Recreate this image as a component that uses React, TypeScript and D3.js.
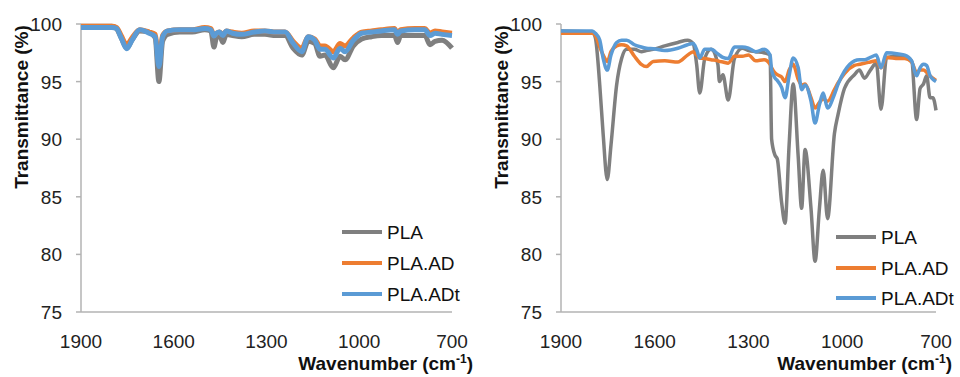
import { useEffect, useRef } from 'react'
import * as d3 from 'd3'

// wavenumbers (cm-1)
const leftWn = [1900, 1800, 1785, 1770, 1752, 1735, 1710, 1680, 1660, 1648, 1636, 1620, 1580, 1540, 1500, 1480, 1470, 1462, 1452, 1441, 1430, 1410, 1380, 1340, 1305, 1270, 1240, 1214, 1186, 1165, 1144, 1127, 1111, 1084, 1062, 1046, 1019, 992, 960, 929, 886, 876, 866, 820, 788, 771, 755, 732, 700]
const leftPla = [99.8, 99.8, 99.6, 98.8, 97.9, 98.6, 99.4, 99.3, 98.8, 95.0, 98.5, 99.1, 99.3, 99.3, 99.5, 99.4, 98.0, 98.8, 99.0, 98.4, 99.1, 99.0, 98.9, 99.1, 99.1, 99.0, 99.0, 97.9, 97.3, 98.5, 98.3, 97.2, 97.3, 96.2, 97.2, 96.9, 98.1, 98.7, 98.9, 99.0, 99.0, 98.4, 99.0, 99.0, 99.0, 98.2, 98.5, 98.6, 97.9]
const leftAd = [99.8, 99.8, 99.7, 99.0, 98.2, 98.8, 99.5, 99.3, 99.1, 96.8, 99.0, 99.4, 99.5, 99.5, 99.7, 99.6, 99.0, 99.2, 99.3, 99.1, 99.4, 99.3, 99.2, 99.4, 99.4, 99.3, 99.3, 98.5, 97.9, 98.9, 98.7, 98.1, 98.1, 97.6, 98.3, 98.1, 98.8, 99.3, 99.4, 99.5, 99.6, 99.2, 99.5, 99.6, 99.6, 99.2, 99.4, 99.3, 99.2]
const leftAdt = [99.7, 99.7, 99.6, 98.8, 97.85, 98.6, 99.5, 99.2, 98.9, 96.3, 98.9, 99.4, 99.5, 99.5, 99.6, 99.5, 98.95, 99.2, 99.3, 99.0, 99.4, 99.2, 99.1, 99.3, 99.4, 99.3, 99.3, 98.35, 97.6, 98.9, 98.6, 97.8, 97.8, 97.05, 97.9, 97.6, 98.6, 99.2, 99.3, 99.4, 99.5, 99.1, 99.4, 99.5, 99.5, 99.0, 99.2, 99.1, 99.0]

// wavenumbers (cm-1)
const rightWn = [1900, 1800, 1790, 1776, 1765, 1752, 1740, 1722, 1706, 1690, 1665, 1643, 1627, 1605, 1568, 1526, 1495, 1477, 1466, 1456, 1440, 1420, 1398, 1393, 1382, 1365, 1345, 1320, 1300, 1277, 1250, 1231, 1226, 1215, 1208, 1194, 1183, 1170, 1157, 1141, 1130, 1119, 1100, 1087, 1073, 1061, 1047, 1025, 1013, 993, 961, 945, 929, 910, 891, 876, 858, 820, 800, 778, 762, 751, 740, 730, 719, 710, 700]
const rightPla = [99.4, 99.3, 98.8, 94.7, 90.4, 86.5, 89.5, 94.7, 97.0, 97.8, 97.8, 97.6, 97.7, 97.8, 98.1, 98.4, 98.6, 98.3, 96.5, 94.0, 97.0, 97.8, 96.5, 95.0, 95.6, 93.4, 97.0, 97.9, 97.7, 97.6, 97.5, 97.3, 90.0, 88.6, 88.3, 84.5, 82.7, 89.5, 94.8, 88.5, 84.0, 89.1, 84.0, 79.4, 84.0, 87.3, 83.1, 90.5, 92.2, 94.4, 95.6, 96.0, 95.3, 96.0, 96.6, 92.6, 97.1, 97.2, 97.1, 96.8, 91.7, 94.4, 94.8, 95.5, 93.6, 93.6, 92.5]
const rightAd = [99.2, 99.2, 99.0, 98.0, 97.3, 96.75, 97.6, 98.1, 98.2, 98.1, 97.2, 96.5, 96.3, 96.75, 96.8, 96.7, 97.3, 97.6, 97.3, 97.05, 97.0, 96.9, 96.8, 96.75, 96.7, 96.6, 97.2, 97.2, 97.3, 96.8, 96.9, 96.5, 96.2, 95.75, 95.6, 95.4, 95.0, 96.0, 96.5, 95.2, 94.7, 94.8, 93.6, 92.7, 93.2, 93.5, 93.3, 94.3, 94.9, 95.7, 96.4, 96.5, 96.6, 96.7, 96.8, 96.2, 97.1, 97.0, 97.0, 96.7, 95.8, 96.0, 96.0, 95.8, 95.5, 95.3, 95.1]
const rightAdt = [99.4, 99.4, 99.2, 98.6, 97.0, 96.0, 97.3, 98.4, 98.6, 98.6, 98.2, 98.0, 97.9, 97.85, 97.7, 97.9, 98.2, 98.3, 97.8, 97.05, 97.8, 97.8, 97.4, 97.3, 97.1, 97.0, 98.0, 98.0, 97.9, 97.6, 97.8, 97.3, 96.0, 95.3, 95.1, 94.5, 93.6, 95.5, 97.05, 96.2, 94.3, 94.7, 93.3, 91.4, 93.0, 94.0, 92.7, 93.9, 94.8, 95.9, 96.8, 96.9, 96.9, 97.1, 97.3, 96.2, 97.5, 97.4, 97.3, 96.8, 95.5, 96.2, 96.5, 96.4, 95.5, 95.2, 95.0]

const seriesNames = ['PLA', 'PLA.AD', 'PLA.ADt']
const seriesColors = ['#7f7f7f', '#ed7d31', '#5b9bd5']
const xTicks = [1900, 1600, 1300, 1000, 700]
const yTicks = [75, 80, 85, 90, 95, 100]

const W = 960
const H = 377
const FONT = '"Liberation Sans", Arial, sans-serif'

export default function App() {
  const ref = useRef<SVGSVGElement>(null)

  useEffect(() => {
    if (!ref.current) return
    const svg = d3.select(ref.current)
    svg.selectAll('*').remove()

    const panels = [
      { left: 81, right: 452, wn: leftWn, series: [leftPla, leftAd, leftAdt], lw: 5, legX: 342, legY: [232, 263, 294], titleX: 21, xTitleEnd: 473 },
      { left: 561, right: 936, wn: rightWn, series: [rightPla, rightAd, rightAdt], lw: 3.5, legX: 836, legY: [237, 268, 298], titleX: 501, xTitleEnd: 952 },
    ]

    const y = d3.scaleLinear().domain([75, 100]).range([312, 24])

    panels.forEach((p) => {
      const x = d3.scaleLinear().domain([1900, 700]).range([p.left, p.right])
      const g = svg.append('g')

      // ── axes ──────────────────────────────────────────────
      g.append('line')
        .attr('x1', p.left).attr('x2', p.left)
        .attr('y1', y(100)).attr('y2', y(75))
        .attr('stroke', '#b3b3b3').attr('stroke-width', 1.5)
      g.append('line')
        .attr('x1', p.left).attr('x2', p.right)
        .attr('y1', y(75)).attr('y2', y(75))
        .attr('stroke', '#b3b3b3').attr('stroke-width', 1.5)

      yTicks.forEach((t) => {
        g.append('line')
          .attr('x1', p.left - 5).attr('x2', p.left)
          .attr('y1', y(t)).attr('y2', y(t))
          .attr('stroke', '#b3b3b3').attr('stroke-width', 1.5)
        g.append('text')
          .attr('x', p.left - 19)
          .attr('y', y(t) + 7)
          .attr('text-anchor', 'end')
          .style('font-family', FONT)
          .style('font-size', '19px')
          .style('fill', '#222')
          .text(t)
      })

      xTicks.forEach((t) => {
        g.append('text')
          .attr('x', x(t))
          .attr('y', 348)
          .attr('text-anchor', 'middle')
          .style('font-family', FONT)
          .style('font-size', '19px')
          .style('fill', '#222')
          .text(t)
      })

      // ── axis titles ───────────────────────────────────────
      g.append('text')
        .attr('transform', `translate(${p.titleX + 7},107) rotate(-90)`)
        .attr('text-anchor', 'middle')
        .style('font-family', FONT)
        .style('font-size', '19px')
        .style('font-weight', '700')
        .style('fill', '#111')
        .text('Transmittance (%)')

      const xt = g.append('text')
        .attr('x', p.xTitleEnd)
        .attr('y', 370)
        .attr('text-anchor', 'end')
        .style('font-family', FONT)
        .style('font-size', '19px')
        .style('font-weight', '700')
        .style('fill', '#111')
      xt.append('tspan').text('Wavenumber (cm')
      xt.append('tspan').attr('dy', -7).style('font-size', '12px').text('-1')
      xt.append('tspan').attr('dy', 7).text(')')

      // ── spectra ───────────────────────────────────────────
      p.series.forEach((vals, i) => {
        const line = d3.line<number>()
          .x((_, j) => x(p.wn[j]))
          .y((d) => y(d))
          .curve(d3.curveMonotoneX)
        g.append('path')
          .attr('d', line(vals))
          .attr('fill', 'none')
          .attr('stroke', seriesColors[i])
          .attr('stroke-width', p.lw)
          .attr('stroke-linejoin', 'round')
      })

      // ── legend ────────────────────────────────────────────
      seriesNames.forEach((name, i) => {
        g.append('line')
          .attr('x1', p.legX).attr('x2', p.legX + 40)
          .attr('y1', p.legY[i]).attr('y2', p.legY[i])
          .attr('stroke', seriesColors[i])
          .attr('stroke-width', 4)
        g.append('text')
          .attr('x', p.legX + 45)
          .attr('y', p.legY[i] + 7)
          .style('font-family', FONT)
          .style('font-size', '19px')
          .style('fill', '#111')
          .text(name)
      })
    })
  }, [])

  return (
    <svg
      ref={ref}
      width={W}
      height={H}
      style={{ position: 'absolute', left: 0, top: 0, background: '#fff' }}
    />
  )
}
